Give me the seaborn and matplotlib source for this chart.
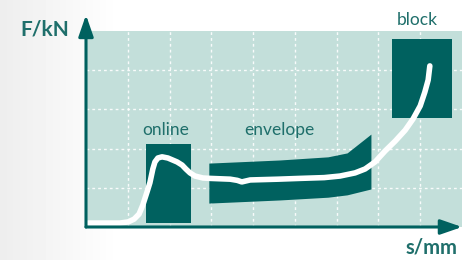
import matplotlib
matplotlib.use("Agg")
import matplotlib.pyplot as plt
import numpy as np
import pandas as pd
import seaborn as sns

# force-displacement curve (grid units)
curve_s = [0.05, 0.81, 1.01, 1.15, 1.27, 1.36, 1.46, 1.53, 1.60, 1.65, 1.72, 1.82,
           1.96, 2.18, 2.30, 2.39, 2.49, 2.61, 2.80, 2.97, 3.45, 3.62, 3.73, 3.85,
           3.93, 4.60, 5.12, 5.70, 6.08, 6.44, 6.68, 6.92, 7.16, 7.40, 7.64, 7.83,
           8.00, 8.11, 8.19, 8.23]
curve_f = [0.10, 0.10, 0.13, 0.20, 0.33, 0.56, 0.89, 1.13, 1.48, 1.66, 1.76, 1.79,
           1.76, 1.66, 1.58, 1.48, 1.38, 1.30, 1.25, 1.24, 1.22, 1.19, 1.15, 1.18,
           1.20, 1.22, 1.24, 1.26, 1.30, 1.38, 1.48, 1.66, 1.94, 2.19, 2.47, 2.76,
           3.09, 3.44, 3.75, 4.11]

# envelope band
env_s = [2.94, 4.64, 5.79, 6.25, 6.82]
env_lo = [0.61, 0.69, 0.76, 0.82, 0.97]
env_hi = [1.63, 1.71, 1.79, 1.89, 2.37]

# window boxes
box_names = ["online", "block"]
box_left = [1.44, 7.32]
box_right = [2.51, 8.76]
box_bottom = [0.10, 2.78]
box_top = [2.12, 4.80]

# box labels
label_text = ["online", "envelope", "block"]
label_s = [1.91, 4.63, 7.92]
label_f = [2.35, 2.35, 5.15]

x_max = 9.0
y_max = 5.0

dark = "#00615f"
light = "#c3dfda"
text_col = "#1f6f6b"

sns.set_theme(style="white")
plt.rcParams["font.family"] = ["Lato", "DejaVu Sans"]

fig = plt.figure(figsize=(4.62, 2.60), dpi=100)

# faint grey fade on the left of the figure
bg = fig.add_axes([0, 0, 1, 1], zorder=-10)
grad = np.linspace(0.93, 1.0, 120)
grad = np.concatenate([grad, np.ones(342)])
bg.imshow(np.tile(grad, (10, 1)), cmap="gray", vmin=0, vmax=1, aspect="auto",
          extent=[0, 1, 0, 1])
bg.axis("off")

ax = fig.add_axes([86 / 462, 33 / 260, 376 / 462, 196 / 260])
ax.set_facecolor(light)
ax.set_xlim(0, x_max)
ax.set_ylim(0, y_max)
ax.set_xticks(range(1, 9))
ax.set_yticks(range(1, 5))
ax.grid(True, color="white", linestyle=(0, (2, 2.2)), linewidth=1.0, alpha=0.9)
ax.tick_params(length=0, labelbottom=False, labelleft=False)
for sp in ax.spines.values():
    sp.set_visible(False)

# boxes
for l, r, b, t in zip(box_left, box_right, box_bottom, box_top):
    ax.bar(l, t - b, width=r - l, bottom=b, align="edge", color=dark,
           linewidth=0, zorder=3)

# envelope
ax.fill_between(env_s, env_lo, env_hi, color=dark, linewidth=0, zorder=3)

# curve
df = pd.DataFrame({"s": curve_s, "F": curve_f})
sns.lineplot(data=df, x="s", y="F", sort=False, color="white", linewidth=4.0,
             ax=ax, zorder=4, solid_capstyle="round", solid_joinstyle="round")
ax.set_xlabel("")
ax.set_ylabel("")

for txt, xs, yf in zip(label_text, label_s, label_f):
    ax.text(xs, yf, txt, ha="center", va="baseline", fontsize=12.5,
            color=text_col, clip_on=False, zorder=5)

# axis arrows
arrow = dict(arrowstyle="-|>,head_length=13,head_width=4.5", mutation_scale=1,
             color=dark, lw=2.2, shrinkA=0, shrinkB=0)
ax.annotate("", xy=(0, 5.41), xytext=(0, 0), arrowprops=arrow,
            annotation_clip=False, zorder=6)
ax.annotate("", xy=(x_max, 0), xytext=(0, 0), arrowprops=arrow,
            annotation_clip=False, zorder=6)

fig.text(69 / 462, (260 - 35) / 260, "F/kN", ha="right", va="baseline",
         fontsize=15, fontweight="bold", color=text_col)
fig.text(457 / 462, (260 - 253) / 260, "s/mm", ha="right", va="baseline",
         fontsize=14.5, fontweight="bold", color=text_col)

fig.savefig("out.png", dpi=100)
